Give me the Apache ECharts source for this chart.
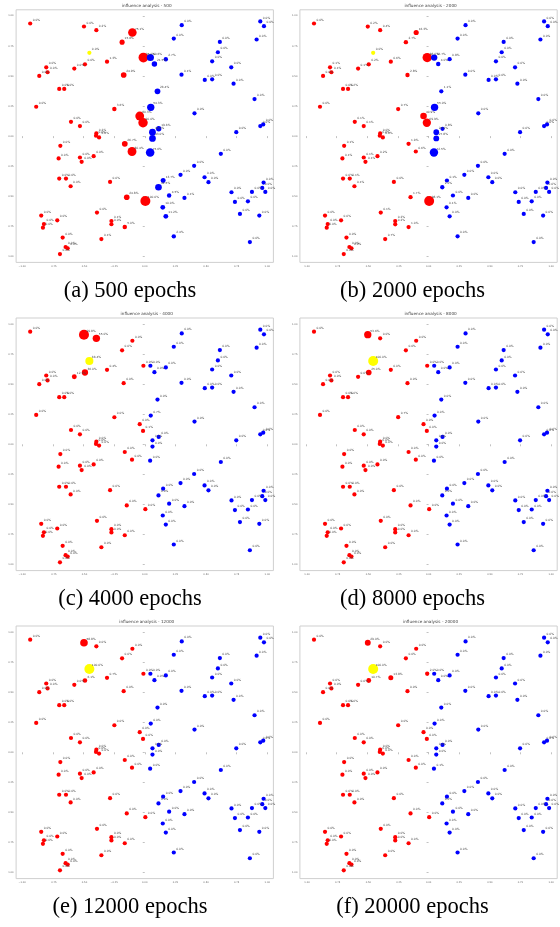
<!DOCTYPE html>
<html><head><meta charset="utf-8">
<script src="https://cdn.jsdelivr.net/npm/echarts@6/dist/echarts.min.js"></script>
<style>html,body{margin:0;padding:0;background:#fff}#c{width:560px;height:927px}</style>
</head><body><div id="c"></div>
<script>
// shared point layout (same in every panel)
const pointX = [-0.935,-0.496,-0.395,-0.101,-0.185,-0.452,-0.308,-0.488,-0.575,-0.011,
 -0.172,-0.804,-0.793,-0.861,-0.698,-0.657,-0.886,-0.248,-0.602,-0.529,
 -0.395,-0.398,-0.373,-0.041,-0.014,-0.163,-0.104,-0.689,-0.703,-0.529,
 -0.515,-0.417,-0.698,-0.643,-0.605,-0.283,-0.147,0.005,-0.845,-0.714,
 -0.823,-0.831,-0.390,-0.272,-0.272,-0.163,-0.670,-0.354,-0.646,-0.629,
 -0.692,0.302,0.943,0.973,0.237,0.613,0.913,0.597,0.550,0.706,
 0.046,0.079,0.172,0.300,0.490,0.550,0.725,0.896,0.104,0.406,
 0.049,0.114,0.063,0.063,0.747,0.943,0.967,0.044,0.621,0.403,
 0.292,0.150,0.112,0.488,0.520,0.199,0.324,0.147,0.172,0.237,
 0.708,0.736,0.842,0.875,0.959,0.970,0.984,0.777,0.935,0.858];
const pointY = [0.936,0.911,0.881,0.861,0.781,0.692,0.619,0.597,0.561,0.653,
 0.508,0.572,0.531,0.500,0.392,0.392,0.244,0.225,0.119,0.083,
 0.022,0.003,-0.011,0.167,0.111,-0.064,-0.128,-0.081,-0.186,-0.178,
 -0.214,-0.167,-0.353,-0.353,-0.417,-0.381,-0.508,-0.539,-0.661,-0.700,
 -0.731,-0.761,-0.636,-0.706,-0.733,-0.756,-0.844,-0.856,-0.922,-0.933,
 -0.981,0.922,0.953,0.914,0.811,0.783,0.803,0.697,0.622,0.572,
 0.653,0.600,0.639,0.511,0.467,0.472,0.436,0.308,0.372,0.189,
 0.239,0.061,0.033,-0.019,0.033,0.083,0.097,-0.136,-0.147,-0.247,
 -0.322,-0.369,-0.425,-0.342,-0.383,-0.494,-0.514,-0.592,-0.667,-0.833,
 -0.467,-0.547,-0.542,-0.464,-0.431,-0.386,-0.464,-0.647,-0.661,-0.881];
// 0 = red class, 1 = blue class, 2 = query (yellow)
const pointClass = [0,0,0,0,0,2,0,0,0,0, 0,0,0,0,0,0,0,0,0,0, 0,0,0,0,0,0,0,0,0,0,
 0,0,0,0,0,0,0,0,0,0, 0,0,0,0,0,0,0,0,0,0, 0,1,1,1,1,1,1,1,1,1,
 1,1,1,1,1,1,1,1,1,1, 1,1,1,1,1,1,1,1,1,1, 1,1,1,1,1,1,1,1,1,1, 1,1,1,1,1,1,1,1,1,1];

const influence500 = [0.0,0.0,0.2,75.1,15.8,0.0,1.3,0.0,0.0,95.0,
 24.9,0.0,0.0,0.0,0.0,0.0,0.0,3.6,0.0,0.0,
 0.2,0.0,0.0,80.3,90.0,26.7,80.4,0.0,0.0,0.0,
 0.0,0.0,0.0,0.0,0.0,0.0,24.8,100.0,0.0,0.0,
 0.0,0.0,0.0,0.1,0.0,5.0,0.0,0.1,0.0,0.0,
 0.0,0.0,0.0,0.0,0.0,0.0,0.0,0.0,0.0,0.0,
 50.6,21.5,2.7,0.1,0.0,0.0,0.0,0.0,26.4,0.0,
 54.3,19.6,45.0,43.0,0.0,0.0,0.0,75.6,0.0,0.0,
 0.0,13.7,42.5,0.0,0.0,4.5,0.1,10.0,11.2,2.4,
 0.0,0.0,0.0,0.0,0.0,0.0,0.0,0.0,0.0,0.0];
const influence2000 = [0.0,0.2,0.4,16.3,2.7,0.0,0.6,0.2,0.1,88.0,
 2.8,0.1,0.1,0.0,0.0,0.2,0.0,0.7,0.1,0.1,
 0.0,0.0,0.0,40.9,69.9,1.9,0.6,0.1,0.1,0.1,
 0.1,0.2,0.0,0.1,0.1,0.0,1.7,98.1,0.0,0.0,
 0.0,0.0,0.1,0.2,0.2,1.0,0.0,0.7,0.0,0.0,
 0.0,0.0,0.0,0.0,0.0,0.0,0.0,0.0,0.0,0.0,
 36.7,4.0,0.8,0.0,0.0,0.0,0.0,0.0,1.1,0.0,
 55.0,0.8,25.9,27.8,0.0,0.0,0.0,72.5,0.0,0.0,
 0.0,0.1,2.0,0.0,0.0,0.0,0.0,0.1,0.0,0.0,
 0.0,0.0,0.0,0.0,0.0,0.0,0.0,0.0,0.0,0.0];
const influence4000 = [0.0,99.8,55.0,0.0,0.0,66.4,0.4,36.0,12.1,0.0,
 0.0,0.0,0.0,0.0,0.0,0.0,0.0,0.0,0.0,0.0,
 0.0,0.0,0.0,0.0,0.1,0.0,0.0,0.0,0.0,0.0,
 0.0,0.0,0.0,0.0,0.0,0.0,0.0,0.0,0.0,0.0,
 0.0,0.0,0.0,0.0,0.0,0.0,0.0,0.0,0.0,0.0,
 0.0,0.0,0.0,0.0,0.0,0.0,0.0,0.0,0.0,0.0,
 0.0,0.0,0.0,0.0,0.0,0.0,0.0,0.0,0.0,0.0,
 0.7,0.0,0.0,0.0,0.0,0.0,0.0,0.0,0.0,0.0,
 0.0,0.0,0.0,0.0,0.0,0.0,0.0,0.0,0.0,0.0,
 0.0,0.0,0.0,0.0,0.0,0.0,0.0,0.0,0.0,0.0];
const influence8000 = [0.0,53.6,0.0,0.0,0.0,100.0,0.0,25.0,0.0,0.0,
 0.0,0.0,0.0,0.0,0.0,0.0,0.0,0.7,0.0,0.0,
 0.0,0.0,0.0,0.0,0.0,0.0,0.0,0.0,0.0,0.0,
 0.0,0.0,0.0,0.0,0.0,0.0,0.0,0.0,0.0,0.0,
 0.0,0.0,0.0,0.0,0.0,0.0,0.0,0.0,0.0,0.0,
 0.0,0.0,0.0,0.0,0.0,0.0,0.0,0.0,0.0,0.0,
 0.0,0.0,0.0,0.0,0.0,0.0,0.0,0.0,0.0,0.0,
 0.0,0.0,0.0,0.0,0.0,0.0,0.0,0.0,0.0,0.0,
 0.0,0.0,0.0,0.0,0.0,0.0,0.0,0.0,0.0,0.0,
 0.0,0.0,0.0,0.0,0.0,0.0,0.0,0.0,0.0,0.0];
const influence12000 = [0.0,58.8,0.0,0.0,0.0,100.0,0.7,6.1,0.0,0.0,
 0.0,0.0,0.0,0.0,0.0,0.0,0.0,0.0,0.0,0.0,
 0.0,0.0,0.0,0.0,0.0,0.0,0.0,0.0,0.0,0.0,
 0.0,0.0,0.0,0.0,0.0,0.0,0.0,0.0,0.0,0.0,
 0.0,0.0,0.0,0.0,0.0,0.0,0.0,0.0,0.0,0.0,
 0.0,0.0,0.0,0.0,0.0,0.0,0.0,0.0,0.0,0.0,
 0.0,0.0,0.0,0.0,0.0,0.0,0.0,0.0,0.0,0.0,
 0.0,0.0,0.0,0.0,0.0,0.0,0.0,0.0,0.0,0.0,
 0.0,0.0,0.0,0.0,0.0,0.0,0.0,0.0,0.0,0.0,
 0.0,0.0,0.0,0.0,0.0,0.0,0.0,0.0,0.0,0.0];
const influence20000 = [0.0,29.0,0.0,0.0,0.0,100.0,13.8,10.7,0.0,2.0,
 0.0,0.0,0.0,0.0,0.0,0.0,0.0,0.0,0.0,0.0,
 0.0,0.0,0.0,0.0,0.0,0.0,0.0,0.0,0.0,0.0,
 0.0,0.0,0.0,0.0,0.0,0.0,0.0,0.0,0.0,0.0,
 0.0,0.0,0.0,0.0,0.0,0.0,0.0,0.0,0.0,0.0,
 0.0,0.0,0.0,0.0,0.0,0.0,0.0,0.0,0.0,0.0,
 0.0,0.0,0.0,0.0,0.0,0.0,0.0,0.0,0.0,0.0,
 0.0,0.0,0.0,0.0,0.0,0.0,0.0,0.1,0.0,0.0,
 0.0,0.0,0.0,0.0,0.0,0.0,0.0,0.0,0.0,0.0,
 0.0,0.0,0.0,0.0,0.0,0.0,0.0,0.0,0.0,0.0];

const epochs = [500, 2000, 4000, 8000, 12000, 20000];
const panelLetters = ['a','b','c','d','e','f'];
const panelInfluence = [influence500, influence2000, influence4000, influence8000, influence12000, influence20000];
const tickValues = [-1, -0.75, -0.5, -0.25, 0, 0.25, 0.5, 0.75, 1];

const classColors = ['#ff0000', '#0000ff', '#ffff00'];
const colLeft = [16.1, 299.9];
const rowTop = [9.8, 318, 626];
const W = 257.3, H = 252.6;
const captionX = [130, 412.5];
const captionY = [291.5, 599.5, 907.5];

function fmtTick(v) {
  const s = Math.abs(v).toFixed(2);
  return v < 0 ? '\u2212' + s : s;
}

const grid = [], xAxis = [], yAxis = [], series = [], graphic = [];
for (let i = 0; i < 6; i++) {
  const col = i % 2, row = Math.floor(i / 2);
  const left = colLeft[col], top = rowTop[row];
  grid.push({left: left, top: top, width: W, height: H, show: true,
    borderColor: '#cfcfcf', borderWidth: 1, backgroundColor: 'transparent'});
  const axisCommon = {
    gridIndex: i, type: 'value', min: -1.05, max: 1.05,
    axisLine: {show: false}, splitLine: {show: false},
    axisTick: {show: true, length: 2, customValues: tickValues, lineStyle: {color: '#999', width: 0.6}},
    axisLabel: {customValues: tickValues, fontSize: 2.4, color: '#666', margin: 2.5,
      fontFamily: 'DejaVu Sans', formatter: fmtTick}
  };
  xAxis.push(Object.assign({}, axisCommon));
  yAxis.push(Object.assign({}, axisCommon));
  const vals = panelInfluence[i];
  const data = pointX.map((x, k) => [x, pointY[k], vals[k], pointClass[k]]);
  series.push({
    type: 'scatter', xAxisIndex: i, yAxisIndex: i, data: data,
    symbolSize: (v) => 4.2 + 5.8 * v[2] / 100,
    itemStyle: {color: (p) => classColors[p.data[3]], opacity: 1},
    label: {show: true, position: 'inside', align: 'left', verticalAlign: 'middle',
      offset: [2.5, -3.7], fontSize: 2.9, color: '#444', fontFamily: 'DejaVu Sans',
      formatter: (p) => p.data[2].toFixed(1) + '%'},
    emphasis: {disabled: true}, silent: true
  });
  graphic.push({type: 'text', x: left + W / 2 + 2, y: top - 3.8, silent: true,
    style: {text: 'influence analysis - ' + epochs[i], fontSize: 4.2, fontFamily: 'DejaVu Sans',
      fill: '#444', align: 'center', verticalAlign: 'middle'}});
  graphic.push({type: 'text', x: captionX[col], y: captionY[row], silent: true,
    style: {text: '(' + panelLetters[i] + ') ' + epochs[i] + ' epochs', fontSize: 22.5,
      fontFamily: 'Liberation Serif', fill: '#000', align: 'center', verticalAlign: 'middle'}});
}

const chart = echarts.init(document.getElementById('c'), null, {renderer: 'canvas'});
chart.setOption({animation: false, backgroundColor: '#fff', grid, xAxis, yAxis, series, graphic});
</script></body></html>
